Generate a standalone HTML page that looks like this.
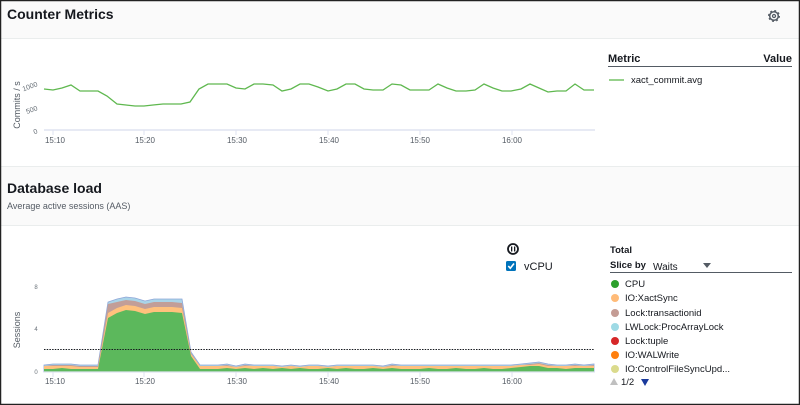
<!DOCTYPE html>
<html><head><meta charset="utf-8"><style>
html,body{margin:0;padding:0;width:800px;height:405px;overflow:hidden;background:#fff;font-family:"Liberation Sans",sans-serif;}
svg{display:block}
</style></head><body>
<svg width="800" height="405" viewBox="0 0 800 405" xmlns="http://www.w3.org/2000/svg" font-family="Liberation Sans, sans-serif">
<rect x="0" y="0" width="800" height="405" fill="#fff"/>
<rect x="0" y="0" width="800" height="38" fill="#fafafa"/>
<line x1="0" y1="38.5" x2="800" y2="38.5" stroke="#eaeded"/>
<rect x="0" y="166" width="800" height="59" fill="#fafafa"/>
<line x1="0" y1="166.5" x2="800" y2="166.5" stroke="#eaeded"/>
<line x1="0" y1="225.5" x2="800" y2="225.5" stroke="#eaeded"/>
<text x="7" y="19" font-size="14" font-weight="bold" fill="#16191f">Counter Metrics</text>
<g transform="translate(774,16)" fill="none" stroke="#545b64"><circle r="4.3" stroke-width="1.5"/><circle r="1.5" stroke-width="1.3"/><circle r="5.2" stroke-width="1.6" stroke-dasharray="1.8 2.3"/></g>
<text x="7" y="193" font-size="14" font-weight="bold" fill="#16191f">Database load</text>
<text x="7" y="209" font-size="9" fill="#545b64">Average active sessions (AAS)</text>

<!-- top chart -->
<text transform="translate(20,105) rotate(-90)" font-size="9" fill="#545b64" text-anchor="middle">Commits / s</text>
<g font-size="7" fill="#687078" text-anchor="end">
<text x="38" y="86" transform="rotate(-20 38 86)">1000</text>
<text x="38" y="110" transform="rotate(-20 38 110)">500</text>
<text x="38" y="133" transform="rotate(-20 38 133)">0</text>
</g>
<line x1="44" y1="130" x2="595" y2="130" stroke="#dfe3f0" stroke-width="1.5"/>
<g stroke="#dfe3f0"><line x1="53" y1="130" x2="53" y2="135"/><line x1="144" y1="130" x2="144" y2="135"/><line x1="236" y1="130" x2="236" y2="135"/><line x1="328" y1="130" x2="328" y2="135"/><line x1="420" y1="130" x2="420" y2="135"/><line x1="512" y1="130" x2="512" y2="135"/></g>
<g font-size="8" fill="#545b64" text-anchor="middle">
<text x="55" y="143">15:10</text><text x="145" y="143">15:20</text><text x="237" y="143">15:30</text><text x="329" y="143">15:40</text><text x="420" y="143">15:50</text><text x="512" y="143">16:00</text>
</g>
<polyline fill="none" stroke="#5fb84f" stroke-width="1.3" points="44,89 53,90 62,88 71,85 80,91 89,91 98,91 107,96 117,104 126,105 135,106 144,106 153,105 163,104 172,104 181,104 190,102 199,89 208,84 218,84 227,84 236,88 245,89 254,84 263,84 273,85 282,91 291,89 300,84 309,84 318,87 328,91 337,89 346,84 355,84 364,89 373,90 383,90 392,84 401,85 410,90 420,90 429,90 438,84 447,88 456,91 466,91 475,90 484,84 493,88 502,91 511,91 521,89 530,84 539,88 548,92 557,91 566,91 575,84 584,90 594,90"/>
<text x="608" y="62" font-size="11" font-weight="bold" fill="#16191f">Metric</text>
<text x="792" y="62" font-size="11" font-weight="bold" fill="#16191f" text-anchor="end">Value</text>
<line x1="608" y1="66.5" x2="792" y2="66.5" stroke="#545b64"/>
<line x1="609" y1="80" x2="624" y2="80" stroke="#5fb84f" stroke-width="1.3"/>
<text x="631" y="83" font-size="9.5" fill="#16191f">xact_commit.avg</text>

<!-- bottom chart -->
<text transform="translate(20,330) rotate(-90)" font-size="9" fill="#545b64" text-anchor="middle">Sessions</text>
<g font-size="6" fill="#687078" text-anchor="middle"><text x="36" y="289">8</text><text x="36" y="331">4</text><text x="36" y="374">0</text></g>
<polygon fill="#a9d4e8" stroke="#8fa6d8" stroke-width="0.8" points="44,365 53,364 62,364 71,364 80,365 89,365 98,365 108,302 117,299 126,297 135,298 145,301 154,299 163,299 172,299 182,299 191,352 200,365 209,365 218,365 227,364 236,366 245,364 254,365 263,365 273,365 282,366 291,365 300,366 309,365 318,365 328,366 337,365 346,365 355,365 364,365 373,365 383,366 392,364 401,365 410,365 420,365 429,365 438,365 447,365 456,365 466,365 475,365 484,365 493,365 502,365 511,365 521,364 530,363 539,362 548,364 557,365 566,365 575,364 584,365 594,364 594,372 44,372"/>
<polygon fill="#c29e98" points="44,366 53,365 62,365 71,365 80,366 89,366 98,366 108,304 117,302 126,300 135,301 145,304 154,302 163,302 172,302 182,303 191,353 200,366 209,366 218,366 227,365 236,367 245,365 254,366 263,366 273,366 282,367 291,366 300,367 309,366 318,366 328,367 337,366 346,366 355,366 364,366 373,366 383,367 392,365 401,366 410,366 420,366 429,366 438,366 447,366 456,366 466,366 475,366 484,366 493,366 502,366 511,366 521,365 530,364 539,363 548,365 557,366 566,366 575,365 584,366 594,365 594,372 44,372"/>
<polygon fill="#ffc17d" points="44,366 53,366 62,366 71,366 80,367 89,367 98,367 108,313 117,308 126,305 135,306 145,309 154,307 163,307 172,307 182,308 191,354 200,366 209,366 218,366 227,366 236,367 245,366 254,366 263,366 273,366 282,367 291,366 300,367 309,366 318,366 328,367 337,366 346,366 355,366 364,366 373,366 383,367 392,366 401,366 410,366 420,366 429,366 438,366 447,366 456,366 466,366 475,366 484,366 493,366 502,366 511,366 521,365 530,365 539,364 548,366 557,366 566,366 575,366 584,366 594,366 594,372 44,372"/>
<polygon fill="#5cb85c" points="44,369 53,369 62,368 71,369 80,369 89,369 98,369 108,318 117,313 126,310 135,311 145,314 154,312 163,312 172,312 182,313 191,356 200,369 209,369 218,369 227,368 236,369 245,368 254,369 263,368 273,369 282,368 291,369 300,368 309,369 318,369 328,368 337,369 346,368 355,369 364,369 373,368 383,369 392,368 401,369 410,369 420,369 429,368 438,369 447,369 456,368 466,369 475,369 484,368 493,369 502,369 511,368 521,367 530,366 539,366 548,368 557,368 566,369 575,368 584,368 594,368 594,372 44,372"/>
<line x1="44" y1="349.5" x2="594" y2="349.5" stroke="#16191f" stroke-width="0.9" stroke-dasharray="1.5 1.2"/>
<line x1="44" y1="372" x2="595" y2="372" stroke="#dfe3f0" stroke-width="1.2"/>
<g stroke="#dfe3f0"><line x1="53" y1="372" x2="53" y2="377"/><line x1="144" y1="372" x2="144" y2="377"/><line x1="236" y1="372" x2="236" y2="377"/><line x1="328" y1="372" x2="328" y2="377"/><line x1="420" y1="372" x2="420" y2="377"/><line x1="512" y1="372" x2="512" y2="377"/></g>
<g font-size="8" fill="#545b64" text-anchor="middle">
<text x="55" y="384">15:10</text><text x="145" y="384">15:20</text><text x="237" y="384">15:30</text><text x="329" y="384">15:40</text><text x="420" y="384">15:50</text><text x="512" y="384">16:00</text>
</g>
<circle cx="513" cy="249" r="5" fill="none" stroke="#16191f" stroke-width="1.8"/>
<rect x="511" y="246.5" width="1.3" height="5" fill="#16191f"/><rect x="514" y="246.5" width="1.3" height="5" fill="#16191f"/>
<rect x="506" y="261" width="10" height="10" rx="1.5" fill="#0073bb"/>
<polyline points="508.3,266 510.3,268.2 514,263.5" fill="none" stroke="#fff" stroke-width="1.6"/>
<text x="524" y="270" font-size="11" fill="#16191f">vCPU</text>

<text x="610" y="253" font-size="9.5" font-weight="bold" fill="#16191f">Total</text>
<text x="610" y="268" font-size="9.5" font-weight="bold" fill="#16191f">Slice by</text>
<text x="653" y="270" font-size="10" fill="#16191f">Waits</text>
<polygon points="703,263 711,263 707,268" fill="#545b64"/>
<line x1="610" y1="272.5" x2="792" y2="272.5" stroke="#545b64"/>
<g font-size="9.5" fill="#16191f">
<circle cx="615" cy="284" r="4" fill="#2ca02c"/><text x="625" y="287">CPU</text>
<circle cx="615" cy="298" r="4" fill="#ffbb78"/><text x="625" y="301">IO:XactSync</text>
<circle cx="615" cy="313" r="4" fill="#c49c94"/><text x="625" y="316">Lock:transactionid</text>
<circle cx="615" cy="327" r="4" fill="#9edae5"/><text x="625" y="330">LWLock:ProcArrayLock</text>
<circle cx="615" cy="341" r="4" fill="#d62728"/><text x="625" y="344">Lock:tuple</text>
<circle cx="615" cy="355" r="4" fill="#ff7f0e"/><text x="625" y="358">IO:WALWrite</text>
<circle cx="615" cy="369" r="4" fill="#dbdb8d"/><text x="625" y="372">IO:ControlFileSyncUpd...</text>
<polygon points="610,385 618,385 614,378" fill="#c0c0c0"/>
<text x="621" y="385">1/2</text>
<polygon points="641,379 649,379 645,386" fill="#1a3a9c"/>
</g>
<rect x="0.5" y="0.5" width="799" height="404" fill="none" stroke="#222" stroke-width="1.5"/>
</svg>
</body></html>
